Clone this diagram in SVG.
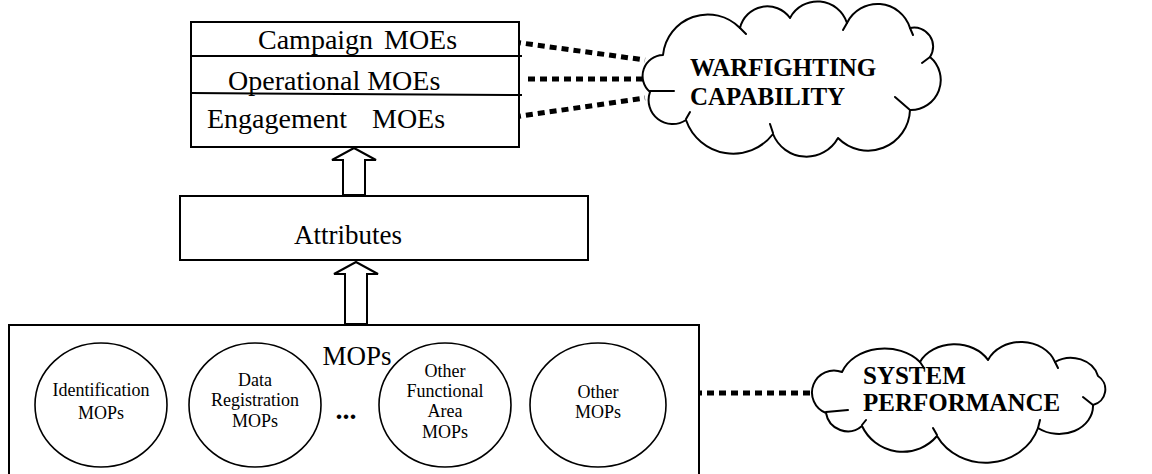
<svg xmlns="http://www.w3.org/2000/svg" width="1152" height="474" viewBox="0 0 1152 474">
<style>
.box{fill:#fff;stroke:#000;stroke-width:2}
.ln{fill:none;stroke:#000;stroke-width:2}
.circ{fill:#fff;stroke:#000;stroke-width:1.6}
.cloud{fill:#fff;stroke:#000;stroke-width:2;stroke-linejoin:round}
.tick{fill:none;stroke:#000;stroke-width:2;stroke-linecap:round}
.dot{fill:none;stroke:#000;stroke-width:5;stroke-dasharray:7 5}
.arrow{fill:#fff;stroke:#000;stroke-width:2;stroke-linejoin:miter}
.t{font-family:"Liberation Serif","Times New Roman",serif;fill:#000}
.big{font-size:28px}
.mid{font-size:27px}
.sm{font-size:18px;text-anchor:middle}
.cl{font-size:25px;font-weight:bold}
</style>
<rect width="1152" height="474" fill="#fff"/>

<g id="connectors">
  <path class="dot" d="M514,42 L645,60"/>
  <path class="dot" d="M528,79 L643,79"/>
  <path class="dot" d="M514,117 L645,98"/>
  <path class="dot" d="M683,393 L812,393"/>
  <path class="arrow" d="M343,195 L343,160 L332,160 L354,148 L376,160 L365,160 L365,195 Z"/>
  <path class="arrow" d="M345,324 L345,274 L334,274 L356,262 L378,274 L367,274 L367,324 Z"/>
</g>

<g id="moes">
  <rect class="box" x="191" y="22" width="328" height="125"/>
  <line class="ln" x1="191" y1="56" x2="522" y2="56"/>
  <line class="ln" x1="191" y1="93" x2="522" y2="95"/>
  <text class="t big" x="258" y="49">Campaign<tspan x="384">MOEs</tspan></text>
  <text class="t big" x="228" y="90">Operational MOEs</text>
  <text class="t big" x="207" y="128">Engagement<tspan x="372">MOEs</tspan></text>
</g>

<g id="attributes">
  <rect class="box" x="180" y="196" width="408" height="64"/>
  <text class="t mid" x="348" y="244" text-anchor="middle">Attributes</text>
</g>

<g id="mops">
  <rect class="box" x="9" y="325" width="690" height="160"/>
  <text class="t mid" x="357" y="365" text-anchor="middle">MOPs</text>
</g>

<g id="mop-identification">
  <ellipse class="circ" cx="101" cy="405" rx="66" ry="62"/>
  <text class="t sm" x="101" y="396">Identification</text>
  <text class="t sm" x="101" y="419">MOPs</text>
</g>
<g id="mop-data-registration">
  <ellipse class="circ" cx="255" cy="405" rx="66" ry="62"/>
  <text class="t sm" x="255" y="386">Data</text>
  <text class="t sm" x="255" y="406">Registration</text>
  <text class="t sm" x="255" y="427">MOPs</text>
</g>
<g id="ellipsis">
  <text class="t" x="346" y="419" font-size="28" font-weight="bold" text-anchor="middle">...</text>
</g>
<g id="mop-other-functional">
  <ellipse class="circ" cx="445" cy="405" rx="66" ry="62"/>
  <text class="t sm" x="445" y="377">Other</text>
  <text class="t sm" x="445" y="397">Functional</text>
  <text class="t sm" x="445" y="417">Area</text>
  <text class="t sm" x="445" y="438">MOPs</text>
</g>
<g id="mop-other">
  <ellipse class="circ" cx="598" cy="405" rx="68" ry="62"/>
  <text class="t sm" x="598" y="398">Other</text>
  <text class="t sm" x="598" y="418">MOPs</text>
</g>

<g id="warfighting">
  <path class="cloud" d="M663,55 A21,21 0 0 0 650,92 A24,24 0 0 0 686,120 A50,50 0 0 0 773,134 A36,36 0 0 0 838,138 A42,42 0 0 0 910,110 A30,30 0 0 0 930,57 A19,19 0 0 0 910,28 A34,34 0 0 0 847,23 A31,31 0 0 0 790,18 A28,28 0 0 0 740,28 A45,45 0 0 0 663,55 Z"/>
  <path class="tick" d="M650,91 L674,91 M686,119 L690,112 M773,133 L770,124 M910,110 L895,97 M930,57 L922,63 M910,28 L913,35 M847,23 L843,30 M740,28 L746,34"/>
  <text class="t cl" x="690" y="76">WARFIGHTING</text>
  <text class="t cl" x="690" y="105">CAPABILITY</text>
</g>

<g id="system-performance">
  <path class="cloud" d="M842,372 A20,20 0 0 0 826,413 A22,22 0 0 0 862,426 A45,45 0 0 0 937,436 A55,50 0 0 0 1038,428 A34,28 0 0 0 1093,405 A16,16 0 0 0 1098,376 A28,24 0 0 0 1055,362 A36,30 0 0 0 988,360 A38,30 0 0 0 920,362 A45,35 0 0 0 842,372 Z"/>
  <path class="tick" d="M826,412 L848,410 M862,425 L866,420 M937,435 L933,428 M1038,428 L1040,420 M1093,405 L1083,397 M1055,362 L1058,368 M920,362 L924,368"/>
  <text class="t cl" x="863" y="384">SYSTEM</text>
  <text class="t cl" x="863" y="411">PERFORMANCE</text>
</g>
</svg>
